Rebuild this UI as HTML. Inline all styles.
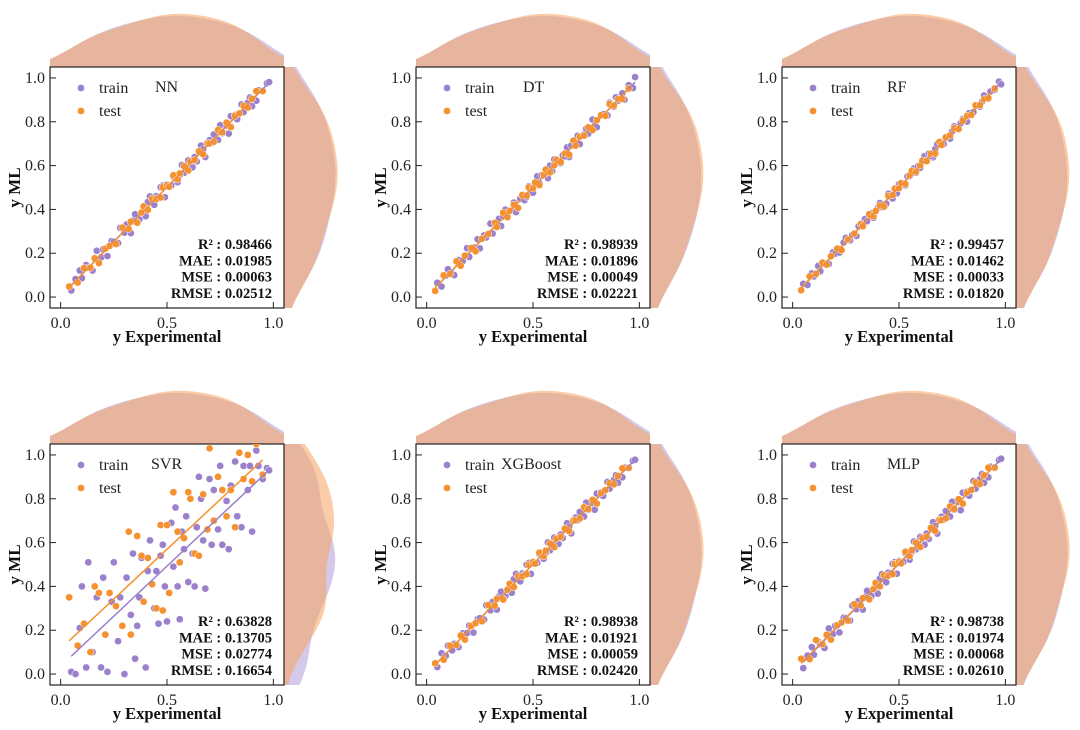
<!DOCTYPE html>
<html><head><meta charset="utf-8"><style>
html,body{margin:0;padding:0;background:#fff}
svg{display:block;font-family:"Liberation Serif",serif}
</style></head><body>
<svg id="fig" width="1080" height="730" viewBox="0 0 1080 730" xmlns="http://www.w3.org/2000/svg"></svg>
<script>
// shared experimental values
const xTrain=[0.05,0.07,0.09,0.10,0.12,0.13,0.15,0.17,0.19,0.20,0.22,0.24,0.25,0.27,0.28,0.30,0.31,0.33,0.34,0.35,0.37,0.38,0.40,0.41,0.42,0.44,0.45,0.46,0.48,0.49,0.50,0.52,0.53,0.54,0.55,0.57,0.58,0.59,0.60,0.62,0.63,0.64,0.66,0.67,0.68,0.70,0.71,0.72,0.74,0.75,0.76,0.78,0.79,0.80,0.82,0.83,0.85,0.86,0.88,0.89,0.90,0.92,0.93,0.95,0.97,0.98,0.36,0.47,0.56,0.65];
const xTest=[0.04,0.08,0.11,0.14,0.16,0.18,0.21,0.23,0.26,0.29,0.32,0.33,0.36,0.38,0.39,0.41,0.43,0.45,0.47,0.48,0.50,0.51,0.53,0.55,0.56,0.58,0.60,0.61,0.63,0.65,0.67,0.69,0.70,0.72,0.74,0.76,0.78,0.80,0.82,0.84,0.86,0.88,0.90,0.92,0.95];
// residuals (prediction - experimental) in thousandths
const resNNTrain=[-20,12,31,-14,26,4,-29,41,-9,18,-33,15,2,-24,36,-6,21,-38,9,28,-16,6,-31,24,39,-19,11,-4,29,-34,14,-11,19,6,-26,33,-13,1,24,-28,9,-21,31,4,-41,16,-7,22,-23,34,-12,3,-44,26,11,-18,29,-16,7,21,-29,-24,14,-9,6,1,-19,31,-3,12];
const resNNTest=[8,-14,22,-6,17,-25,11,3,-18,27,-9,14,-21,6,24,-12,19,-3,-16,21,10,-7,26,-13,4,18,-22,9,-5,15,-19,12,1,-11,23,-8,16,-24,7,-2,13,-15,5,20,-10];
const resDTTrain=[15,-22,8,27,-13,-30,19,-5,33,-17,6,24,-28,11,-8,35,-20,3,17,-26,29,-12,-3,21,-32,9,14,-18,25,-7,-24,31,-10,16,4,-27,20,-15,28,-1,-19,7,23,-31,12,-6,26,-22,2,18,-14,30,-9,-25,13,5,-21,27,-11,22,-4,10,-29,17,-16,24,8,-13,3,-8];
const resDTTest=[-12,19,-5,23,-17,9,14,-21,6,-2,18,-10,25,-15,3,11,-23,16,-7,20,-4,13,-19,8,22,-11,1,17,-14,5,-20,24,-9,12,-3,15,-18,7,10,-13,21,-6,4,-16,2];
const resRFTrain=[10,-15,18,-6,22,-12,4,-19,14,-2,-17,9,20,-11,3,-21,13,-7,16,-4,12,-18,6,19,-9,-14,21,-3,8,-16,15,-5,-20,11,2,17,-13,7,-10,23,-8,14,-22,5,18,-1,-12,10,-17,6,19,-14,3,12,-19,9,-6,16,-11,1,20,-15,8,-4,13,-9,17,-20,4,-7];
const resRFTest=[-9,14,-4,17,-12,6,11,-16,3,-1,13,-7,18,-11,2,8,-17,12,-5,15,-3,10,-14,6,16,-8,1,13,-10,4,-15,18,-6,9,-2,11,-13,5,7,-9,15,-4,3,-12,2];
const resSVRTrain=[-40,-80,120,300,-90,380,-50,180,-160,240,-210,90,260,-120,70,-330,130,-60,210,-280,-20,150,-370,60,190,-140,20,-230,110,-90,-260,170,-40,220,-150,80,-10,130,-180,-70,-230,30,140,-60,-290,190,-120,120,-80,200,-170,10,-220,60,150,-110,-180,90,-40,60,-250,100,20,-60,-30,-50,-140,70,-310,250];
const resSVRTest=[310,50,120,-40,240,190,-30,140,50,-70,330,-150,270,160,-60,120,-20,-150,210,-190,180,-140,300,100,-50,40,230,190,-80,-110,150,-30,330,-20,160,80,-60,40,-150,170,30,120,-20,140,-40];
const resXGBTrain=[-18,25,-7,30,-12,8,-27,16,-3,21,-31,11,5,-22,34,-9,19,-36,13,26,-14,2,-29,23,37,-17,9,-6,27,-33,12,-13,18,4,-24,31,-15,-1,23,-26,7,-19,28,3,-38,14,-8,20,-21,32,-11,1,-40,24,10,-17,27,-14,6,18,-27,-22,12,-10,4,-2,-18,29,-6,9];
const resXGBTest=[9,-15,20,-7,16,-23,10,2,-19,25,-8,13,-20,5,22,-13,17,-4,-15,19,11,-6,24,-12,3,16,-21,8,-4,14,-18,11,2,-10,21,-7,15,-22,6,-1,12,-14,4,19,-9];
const resMLPTrain=[-23,14,33,-12,28,6,-31,38,-7,20,-30,17,4,-26,33,-4,23,-36,11,30,-14,8,-33,26,36,-21,13,-2,31,-32,16,-9,21,8,-28,35,-11,3,26,-30,11,-23,33,6,-39,18,-5,24,-21,36,-10,5,-42,28,13,-16,31,-14,9,23,-27,-22,16,-7,8,3,-17,33,-1,14];
const resMLPTest=[30,-12,45,-4,19,-23,13,5,-16,29,-7,16,-19,8,26,-10,21,-1,-14,23,12,-5,28,-11,6,20,-20,11,-3,17,-17,14,3,-9,25,-6,18,-22,9,0,15,-13,7,22,-8];
const modelNames=["NN","DT","RF","SVR","XGBoost","MLP"];
const metricR2=["0.98466","0.98939","0.99457","0.63828","0.98938","0.98738"];
const metricMAE=["0.01985","0.01896","0.01462","0.13705","0.01921","0.01974"];
const metricMSE=["0.00063","0.00049","0.00033","0.02774","0.00059","0.00068"];
const metricRMSE=["0.02512","0.02221","0.01820","0.16654","0.02420","0.02610"];
const xTicks=[0,0.5,1.0];
const xTickLabels=["0.0","0.5","1.0"];
const yTicks=[0,0.2,0.4,0.6,0.8,1.0];
const yTickLabels=["0.0","0.2","0.4","0.6","0.8","1.0"];

const resTrain=[resNNTrain,resDTTrain,resRFTrain,resSVRTrain,resXGBTrain,resMLPTrain];
const resTest=[resNNTest,resDTTest,resRFTest,resSVRTest,resXGBTest,resMLPTest];

const NS="http://www.w3.org/2000/svg";
const svg=document.getElementById('fig');
function mk(tag,attrs,parent){const e=document.createElementNS(NS,tag);for(const k in attrs)e.setAttribute(k,attrs[k]);(parent||svg).appendChild(e);return e;}
const W=234,H=241,LO=-0.05,HI=1.05;
const origins=[[50,67],[416,67],[782,67],[50,444],[416,444],[782,444]];
const titleDx=[105,107,105,101,85,105];
const CTR='#9b80cc',CTE='#f5912f';

function kde(vals,g){const bw=0.12;let s=0;for(const v of vals){const z=(g-v)/bw;s+=Math.exp(-0.5*z*z);}return s/(vals.length*bw*Math.sqrt(2*Math.PI));}
function fit(xs,ys){const n=xs.length;let mx=0,my=0;for(let i=0;i<n;i++){mx+=xs[i];my+=ys[i];}mx/=n;my/=n;let sxy=0,sxx=0;for(let i=0;i<n;i++){sxy+=(xs[i]-mx)*(ys[i]-my);sxx+=(xs[i]-mx)**2;}const b=sxy/sxx;return [b,my-b*mx];}

origins.forEach((o,p)=>{
  const [bx,by]=o;
  const X=v=>bx+(v-LO)/(HI-LO)*W;
  const Y=v=>by+H-(v-LO)/(HI-LO)*H;
  const yTr=xTrain.map((x,i)=>Math.min(1.05,Math.max(0,x+resTrain[p][i]/1000)));
  const yTe=xTest.map((x,i)=>Math.min(1.05,Math.max(0,x+resTest[p][i]/1000)));
  const g=mk('g',{});
  
  
  const specs=[[xTrain,'#9f88cc',0.45,'train'],[xTest,'#f5a460',0.55,'test']];
  specs.forEach(s=>{
    let d='M'+X(LO)+','+by;
    for(let v=LO;v<=HI+1e-9;v+=0.01)d+=' L'+X(v).toFixed(1)+','+(by-kde(s[0],v)*42).toFixed(1);
    d+=' L'+X(HI)+','+by+' Z';
    const pth=mk('path',{d:d,fill:s[1],'fill-opacity':s[2]},g);
    
    
  });
  [[yTr,'#9f88cc',0.45,'train'],[yTe,'#f5a460',0.55,'test']].forEach(s=>{
    let d='M'+(bx+W)+','+Y(HI);
    for(let v=HI;v>=LO-1e-9;v-=0.01)d+=' L'+(bx+W+kde(s[0],v)*42).toFixed(1)+','+Y(v).toFixed(1);
    d+=' L'+(bx+W)+','+Y(LO)+' Z';
    const pth=mk('path',{d:d,fill:s[1],'fill-opacity':s[2]},g);
    
    
  });
  const box=mk('rect',{x:bx,y:by,width:W,height:H,fill:'#fff',stroke:'#222','stroke-width':1.2},g);
  
  
  xTicks.forEach((t,i)=>{
    mk('line',{x1:X(t),x2:X(t),y1:by+H,y2:by+H-6,stroke:'#222'},g);
    const tx=mk('text',{x:X(t),y:by+H+20,'text-anchor':'middle','font-size':16,fill:'#222'},g);
    tx.textContent=xTickLabels[i];
    
    
  });
  yTicks.forEach((t,i)=>{
    mk('line',{x1:bx,x2:bx+6,y1:Y(t),y2:Y(t),stroke:'#222'},g);
    const tx=mk('text',{x:bx-5,y:Y(t)+5,'text-anchor':'end','font-size':16,fill:'#222'},g);
    tx.textContent=yTickLabels[i];
    
    
  });
  const clip=mk('clipPath',{id:'c'+p},g);mk('rect',{x:bx,y:by,width:W,height:H},clip);
  const pg=mk('g',{'clip-path':'url(#c'+p+')'},g);
  xTrain.forEach((x,i)=>{const c=mk('circle',{cx:X(x),cy:Y(yTr[i]),r:3.6,fill:CTR,stroke:'#fff','stroke-width':0.5},pg);
    
    });
  xTest.forEach((x,i)=>{const c=mk('circle',{cx:X(x),cy:Y(yTe[i]),r:3.6,fill:CTE,stroke:'#fff','stroke-width':0.5},pg);
    
    });
  [[xTrain,yTr,CTR,'train'],[xTest,yTe,CTE,'test']].forEach(s=>{
    const [b,a]=fit(s[0],s[1]);const x0=Math.min(...s[0]),x1=Math.max(...s[0]);
    const l=mk('line',{x1:X(x0),y1:Y(a+b*x0),x2:X(x1),y2:Y(a+b*x1),stroke:s[2],'stroke-width':1.5},pg);
    
    
  });
  [['train',CTR,21],['test',CTE,44]].forEach(s=>{
    const lg=mk('g',{},g);
    
    
    mk('circle',{cx:bx+31,cy:by+s[2],r:3.6,fill:s[1],stroke:'#fff','stroke-width':0.5},lg);
    const t=mk('text',{x:bx+49,y:by+s[2]+5,'font-size':16,fill:'#222'},lg);t.textContent=s[0];
  });
  const ti=mk('text',{x:bx+titleDx[p],y:by+25,'font-size':16,fill:'#222'},g);
  ti.textContent=modelNames[p];
  
  
  const ms=[['R² : ',metricR2[p]],['MAE : ',metricMAE[p]],['MSE : ',metricMSE[p]],['RMSE : ',metricRMSE[p]]];
  ms.forEach((m,i)=>{
    const t=mk('text',{x:bx+222,y:by+182+i*16.3,'text-anchor':'end','font-size':14.5,'font-weight':'bold',fill:'#111'},g);
    t.textContent=m[0]+m[1];
    
    
  });
  const xl=mk('text',{x:bx+117,y:by+275,'text-anchor':'middle','font-size':16.5,'font-weight':'bold',fill:'#111'},g);
  xl.textContent='y Experimental';
  
  
  const yl=mk('text',{x:0,y:0,'text-anchor':'middle','font-size':17,'font-weight':'bold',fill:'#111',transform:'translate('+(bx-30)+','+(by+H/2)+') rotate(-90)'},g);
  yl.textContent='y ML';
  
  
});
</script>
</body></html>
